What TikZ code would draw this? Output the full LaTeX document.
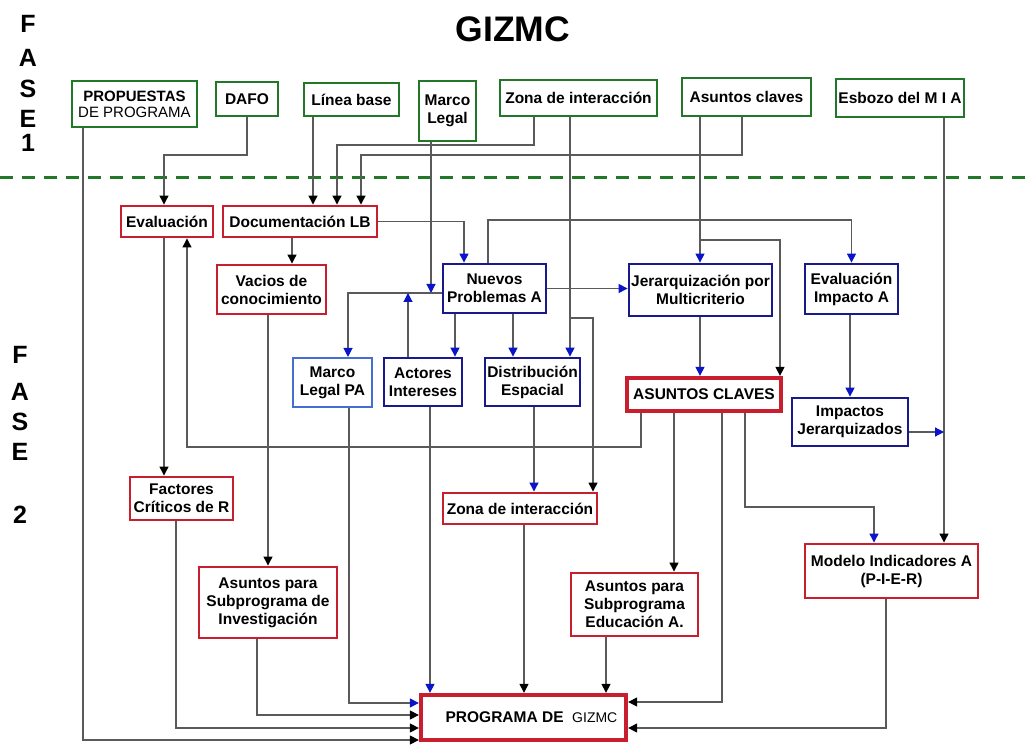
\documentclass[tikz,border=0pt]{standalone}
\usepackage{fontspec}
\setmainfont{Liberation Sans}
\usetikzlibrary{arrows.meta}
\definecolor{gr}{RGB}{34,120,40}
\definecolor{rd}{RGB}{200,30,45}
\definecolor{bl}{RGB}{25,25,140}
\definecolor{lbl}{RGB}{70,110,210}
\definecolor{ablue}{RGB}{10,20,200}
\definecolor{ln}{RGB}{90,90,90}
\tikzset{
  bx/.style={draw, inner sep=0pt, align=center, font=\fontsize{15.5}{18}\selectfont\bfseries, fill=white},
  gbox/.style={bx, draw=gr, line width=2.8pt},
  rbox/.style={bx, draw=rd, line width=2.9pt},
  rbig/.style={bx, draw=rd, line width=4.3pt},
  bbox/.style={bx, draw=bl, line width=2.8pt},
  lbbox/.style={bx, draw=lbl, line width=2.1pt},
  conn/.style={draw=ln, line width=1.2pt},
  arrb/.style={conn, -{Triangle[width=9pt,length=9pt,color=black]}},
  arru/.style={conn, -{Triangle[width=9pt,length=9pt,color=ablue]}},
  fase/.style={font=\fontsize{25}{25}\selectfont\bfseries, anchor=base}
}
\begin{document}
\begin{tikzpicture}[x=1pt,y=-1pt]
\useasboundingbox (0,0) rectangle (1026,746);
\fill[white] (0,0) rectangle (1026,746);

% title and phase labels
\node[font=\fontsize{35.5}{36}\selectfont\bfseries, anchor=base] (title) at (513,42) {GIZMC};
\node[fase] (f1F) at (28,33) {F};
\node[fase] (f1A) at (28,67) {A};
\node[fase] (f1S) at (28,98) {S};
\node[fase] (f1E) at (28,128) {E};
\node[fase] (f1n) at (28,152) {1};
\node[fase] (f2F) at (20,363) {F};
\node[fase] (f2A) at (20,400) {A};
\node[fase] (f2S) at (20,430) {S};
\node[fase] (f2E) at (20,460) {E};
\node[fase] (f2n) at (20,523) {2};

% phase separator
\draw[gr, line width=3pt, dash pattern=on 13pt off 9pt] (0,178) -- (1026,178);

% phase 1 boxes
\node[gbox, minimum width=125, minimum height=46, font=\fontsize{15}{16}\selectfont] (prop) at (134.5,104) {\bfseries PROPUESTAS\\DE PROGRAMA};
\node[gbox, minimum width=62, minimum height=34] (dafo) at (247,99) {DAFO};
\node[gbox, minimum width=95, minimum height=33] (linea) at (351.5,99.5) {Línea base};
\node[gbox, minimum width=57, minimum height=60] (marco) at (447.5,111) {Marco\\Legal};
\node[gbox, minimum width=157, minimum height=36] (zona) at (578.5,98) {Zona de interacción};
\node[gbox, minimum width=129, minimum height=38] (asun) at (746.5,97) {Asuntos claves};
\node[gbox, minimum width=128, minimum height=38] (esb) at (900,98) {Esbozo del M I A};

% phase 2 red boxes
\node[rbox, minimum width=92, minimum height=31] (eval) at (167,221.5) {Evaluación};
\node[rbox, minimum width=154, minimum height=31] (doc) at (300,221.5) {Documentación LB};
\node[rbox, minimum width=109, minimum height=49] (vac) at (271.5,289.5) {Vacios de\\conocimiento};
\node[rbox, minimum width=103, minimum height=43] (fac) at (181.5,498.5) {Factores\\Críticos de R};
\node[rbox, minimum width=138, minimum height=71] (inv) at (268,602.5) {Asuntos para\\Subprograma de\\Investigación};
\node[rbox, minimum width=154, minimum height=31] (zonab) at (520,508.5) {Zona de interacción};
\node[rbig, minimum width=154, minimum height=33] (ac) at (704,394.5) {ASUNTOS CLAVES};
\node[rbox, minimum width=127, minimum height=63] (edu) at (634.5,604.5) {Asuntos para\\Subprograma\\Educación A.};
\node[rbox, minimum width=173, minimum height=54] (mod) at (891.5,571) {Modelo Indicadores A\\(P-I-E-R)};
\node[rbig, minimum width=205, minimum height=45] (prog) at (523.5,717.5) {\hspace{16pt}PROGRAMA DE\ \ {\mdseries\fontsize{14}{16}\selectfont GIZMC}};

% phase 2 blue boxes
\node[bbox, minimum width=103, minimum height=49] (nuevos) at (494.5,288.5) {Nuevos\\Problemas A};
\node[lbbox, minimum width=79, minimum height=49] (mlpa) at (332.5,382.5) {Marco\\Legal PA};
\node[bbox, minimum width=78, minimum height=48] (act) at (423,382) {Actores\\Intereses};
\node[bbox, minimum width=95, minimum height=48] (dist) at (532.5,382) {Distribución\\Espacial};
\node[bbox, minimum width=143, minimum height=52] (jer) at (700.5,290) {Jerarquización por\\Multicriterio};
\node[bbox, minimum width=93, minimum height=50] (evi) at (851.5,289) {Evaluación\\Impacto A};
\node[bbox, minimum width=116, minimum height=48] (imp) at (850,422) {Impactos\\Jerarquizados};

% junction points on connectors
\coordinate (mlj) at (431,293);
\coordinate (acj) at (408,293);
\coordinate (zj) at (570,318);
\coordinate (aj) at (700,240);
\coordinate (ej) at (944,432);

% connectors from phase 1
\draw[arrb] (prop.south -| 83,0) |- (prog.west |- 0,740);
\draw[arrb] (dafo.south) -- (dafo.south |- 0,155) -| (eval.north -| 164,0);
\draw[arrb] (linea.south -| 313,0) -- (doc.north -| 313,0);
\draw[arrb] (zona.south -| 534,0) -- (534,145) -| (doc.north -| 337,0);
\draw[arrb] (asun.south -| 742,0) -- (742,155) -| (doc.north -| 361,0);
\draw[arru] (marco.south -| mlj) -- (mlj);
\draw[arru] (zona.south -| zj) -- (dist.north -| zj);
\draw[arrb] (zj) -| (zonab.north -| 593,0);
\draw[arru] (asun.south -| aj) -- (jer.north -| aj);
\draw[arrb] (aj) -| (ac.north -| 780,0);
\draw[arrb] (esb.south -| ej) -- (mod.north -| ej);

% phase 2 connectors
\draw[arru] ([yshift=-4.5pt]nuevos.west) -| (mlpa.north -| 348,0);
\draw[arru] (act.north -| acj) -- (acj);
\draw[arru] (doc.east) -| (nuevos.north -| 464,0);
\draw[arru] (nuevos.north -| 488,0) -- (488,220) -| (evi.north);
\draw[arru] (nuevos.east) -- (nuevos.east -| jer.west);
\draw[arrb] (doc.south -| 292,0) -- (vac.north -| 292,0);
\draw[arrb] (eval.south -| 164,0) -- (fac.north -| 164,0);
\draw[arrb] (ac.south -| 641,0) -- (641,447) -| (eval.south -| 187,0);
\draw[arru] (nuevos.south -| 455,0) -- (act.north -| 455,0);
\draw[arru] (nuevos.south -| 513,0) -- (dist.north -| 513,0);
\draw[arru] (jer.south -| aj) -- (ac.north -| aj);
\draw[arru] (evi.south -| 850,0) -- (imp.north -| 850,0);
\draw[arru] ([yshift=-10pt]imp.east) -- (ej);
\draw[arrb] (vac.south -| 268,0) -- (inv.north -| 268,0);
\draw[arru] (dist.south -| 534,0) -- (zonab.north -| 534,0);
\draw[arrb] (ac.south -| 674,0) -- (edu.north -| 674,0);
\draw[arrb] (ac.south -| 722,0) |- (prog.east |- 0,702);
\draw[arru] (ac.south -| 745,0) -- (745,507) -| (mod.north -| 874,0);
\draw[arrb] (mod.south -| 886,0) |- (prog.east |- 0,728);
\draw[arrb] (zonab.south -| 524,0) -- (prog.north -| 524,0);
\draw[arrb] (edu.south -| 606,0) -- (prog.north -| 606,0);
\draw[arru] (act.south -| 430,0) -- (prog.north -| 430,0);
\draw[arru] (mlpa.south -| 349,0) |- (prog.west |- 0,703);
\draw[arrb] (inv.south -| 257,0) |- (prog.west |- 0,715);
\draw[arrb] (fac.south -| 176,0) |- (prog.west |- 0,728);
\end{tikzpicture}
\end{document}
